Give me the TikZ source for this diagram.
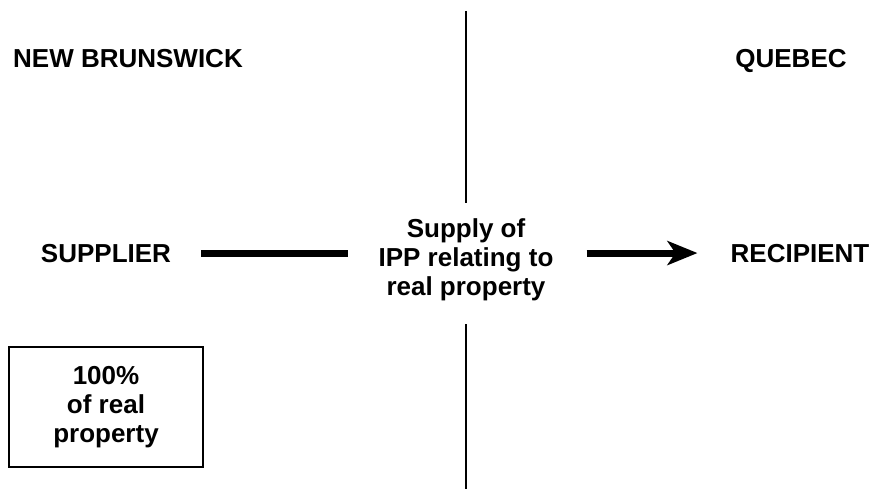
\documentclass[tikz,border=0pt]{standalone}
\usepackage{fontspec}
\setmainfont{Liberation Sans}
\usepackage{tikz}
\usetikzlibrary{arrows.meta}

\tikzset{
    lbl/.style = {font = \bfseries\fontsize{26}{29}\selectfont, inner sep = 0, align = center},
    flow/.style = {line width = 7pt},
}

\begin{document}
\begin{tikzpicture}[x = 1pt, y = -1pt]
    \useasboundingbox (0, 0) rectangle (875, 489);

    %% provinces
    \node[lbl, anchor = base] (nb) at (128, 68) {NEW BRUNSWICK};
    \node[lbl, anchor = base] (qc) at (791, 68) {QUEBEC};

    %% parties
    \node[lbl, anchor = base] (supplier) at (106, 262) {SUPPLIER};
    \node[lbl, anchor = base] (recipient) at (800, 262) {RECIPIENT};
    \node[lbl, anchor = north] (supply) at (466, 218)
        {Supply of\\IPP relating to\\real property};

    %% border
    \coordinate (bordertop) at (466, 11);
    \coordinate (borderbot) at (466, 489);
    \draw[line width = 2.5pt] (bordertop) -- (bordertop |- 0, 203);
    \draw[line width = 2.5pt] (borderbot) -- (borderbot |- 0, 324);

    %% flow of supply
    \draw[flow, shorten < = 30pt, shorten > = 30pt]
        (supplier.east) -- (supplier.east -| supply.west);
    \draw[flow, -{Stealth[length = 30pt, width = 24pt, inset = 8pt]},
        shorten < = 33pt, shorten > = 33pt]
        (supplier.east -| supply.east) -- (supplier.east -| recipient.west);

    %% share
    \node[lbl, draw, line width = 2pt, minimum width = 194pt, minimum height = 120pt]
        (share) at (106, 407) {100\%\\of real\\property};
\end{tikzpicture}
\end{document}
